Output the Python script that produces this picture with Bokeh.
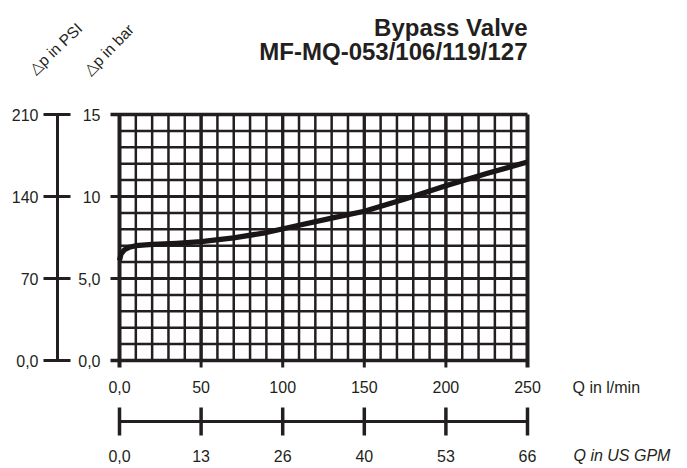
from bokeh.plotting import figure
from bokeh.models import Range1d
from bokeh.core.properties import value
from bokeh.embed import file_html
from bokeh.resources import INLINE

# ---------------- data ----------------
flow_lpm = [0, 1, 3, 6, 10, 20, 35, 50, 70, 90, 110, 130, 150, 175, 200, 225, 250]
dp_bar = [6.1, 6.5, 6.75, 6.9, 7.0, 7.08, 7.15, 7.25, 7.48, 7.8, 8.25, 8.68, 9.1, 9.85, 10.65, 11.4, 12.1]

lpm_ticks = [0, 50, 100, 150, 200, 250]
lpm_tick_labels = ["0,0", "50", "100", "150", "200", "250"]
gpm_ticks = [0, 13.2, 26.4, 39.6, 52.8, 66.0]
gpm_tick_labels = ["0,0", "13", "26", "40", "53", "66"]
bar_ticks = [0, 5, 10, 15]
bar_tick_labels = ["0,0", "5,0", "10", "15"]
psi_ticks = [0, 70, 140, 210]
psi_tick_labels = ["0,0", "70", "140", "210"]

title_lines = ["Bypass Valve", "MF-MQ-053/106/119/127"]
x_label_lpm = "Q in l/min"
x_label_gpm = "Q in US GPM"
y_label_psi = "\u25b3p in PSI"
y_label_bar = "\u25b3p in bar"

LPM_MAX, BAR_MAX, PSI_MAX, GPM_MAX = 250, 15, 210, 66

# ---------------- layout ----------------
W, H = 687, 468
PAGE = 0
FX0, FX1 = 119, 527     # page px of Q=0 and Q=250
FY0, FY1 = 360, 114     # page px of 0 bar and 15 bar
kx = (FX1 - FX0) / LPM_MAX
ky = (FY0 - FY1) / BAR_MAX

def X(px):  # page x pixel -> data
    return (px - FX0) / kx

def Y(py):  # page y pixel -> data
    return (FY0 - py) / ky

x_range = Range1d(X(PAGE), X(PAGE + W))
y_range = Range1d(Y(PAGE + H), Y(PAGE))

p = figure(width=W, height=H, x_range=x_range, y_range=y_range,
           output_backend="svg", toolbar_location=None,
           x_axis_location=None, y_axis_location=None, min_border=0)
p.grid.visible = False
p.outline_line_color = None
p.background_fill_color = "white"
p.border_fill_color = "white"

INK = "#231f20"
FONT = value("Liberation Sans")
FS = "16px"

# grid
minor_x = [q for q in range(0, LPM_MAX + 1, 10) if q % 50 != 0]
major_x = [q for q in range(0, LPM_MAX + 1, 50)]
minor_y = [b for b in range(0, BAR_MAX + 1) if b % 5 != 0]
major_y = [5, 10]
p.segment(x0=minor_x, y0=[0] * len(minor_x), x1=minor_x, y1=[BAR_MAX] * len(minor_x),
          line_color=INK, line_width=2.5)
p.segment(x0=[0] * len(minor_y), y0=minor_y, x1=[LPM_MAX] * len(minor_y), y1=minor_y,
          line_color=INK, line_width=2.5)
p.segment(x0=major_x[1:-1], y0=[0] * 4, x1=major_x[1:-1], y1=[BAR_MAX] * 4,
          line_color=INK, line_width=3.0)
p.segment(x0=[0, 0], y0=major_y, x1=[LPM_MAX, LPM_MAX], y1=major_y,
          line_color=INK, line_width=3.0)

# frame border + outward ticks
tick_left = X(FX0 - 9)
p.segment(x0=[tick_left] * len(bar_ticks), y0=bar_ticks, x1=[LPM_MAX] * len(bar_ticks), y1=bar_ticks,
          line_color=INK, line_width=[3.6, 3.0, 3.0, 3.6])
tick_down = Y(FY0 + 7)
p.segment(x0=lpm_ticks, y0=[tick_down] * len(lpm_ticks), x1=lpm_ticks, y1=[BAR_MAX] * len(lpm_ticks),
          line_color=INK, line_width=[4.0, 3.0, 3.0, 3.0, 3.0, 4.0])

# curve
p.line(flow_lpm, dp_bar, line_color="#1a1617", line_width=5.2, line_join="round")

# bar tick labels
p.text(x=[X(100)] * len(bar_ticks), y=bar_ticks, text=bar_tick_labels,
       text_font=FONT, text_font_size=FS, text_color=INK,
       text_align="right", text_baseline="middle")

# PSI axis
psi_pos = [v * BAR_MAX / PSI_MAX for v in psi_ticks]
p.segment(x0=[X(57)], y0=[0], x1=[X(57)], y1=[BAR_MAX], line_color=INK, line_width=3)
p.segment(x0=[X(43)] * 4, y0=psi_pos, x1=[X(70)] * 4, y1=psi_pos, line_color=INK, line_width=3)
p.text(x=[X(38)] * 4, y=psi_pos, text=psi_tick_labels,
       text_font=FONT, text_font_size=FS, text_color=INK,
       text_align="right", text_baseline="middle")

# l/min labels
p.text(x=lpm_ticks, y=[Y(386.5)] * len(lpm_ticks), text=lpm_tick_labels,
       text_font=FONT, text_font_size=FS, text_color=INK,
       text_align="center", text_baseline="middle")
p.text(x=[X(572)], y=[Y(386.5)], text=[x_label_lpm],
       text_font=FONT, text_font_size=FS, text_color=INK,
       text_align="left", text_baseline="middle")

# GPM axis
gpm_pos = [g * LPM_MAX / GPM_MAX for g in gpm_ticks]
p.segment(x0=[0], y0=[Y(421)], x1=[LPM_MAX], y1=[Y(421)], line_color=INK, line_width=3)
p.segment(x0=gpm_pos, y0=[Y(407)] * 6, x1=gpm_pos, y1=[Y(435)] * 6, line_color=INK, line_width=3.5)
p.text(x=gpm_pos, y=[Y(455)] * 6, text=gpm_tick_labels,
       text_font=FONT, text_font_size=FS, text_color=INK,
       text_align="center", text_baseline="middle")
p.text(x=[X(573)], y=[Y(455)], text=[x_label_gpm],
       text_font=FONT, text_font_size=FS, text_font_style="italic", text_color=INK,
       text_align="left", text_baseline="middle")

# rotated y labels
p.text(x=[X(31), X(86)], y=[Y(71), Y(72)], text=[y_label_psi, y_label_bar],
       angle=[0.76, 0.80], text_font=FONT, text_font_size="15.5px", text_color=INK,
       text_align="left", text_baseline="alphabetic")

# title
p.text(x=[LPM_MAX, LPM_MAX], y=[Y(26.7), Y(50.7)], text=title_lines,
       text_font=FONT, text_font_size="24px", text_font_style="bold", text_color=INK,
       text_align="right", text_baseline="alphabetic")

open("out.html", "w").write(file_html(p, INLINE))
